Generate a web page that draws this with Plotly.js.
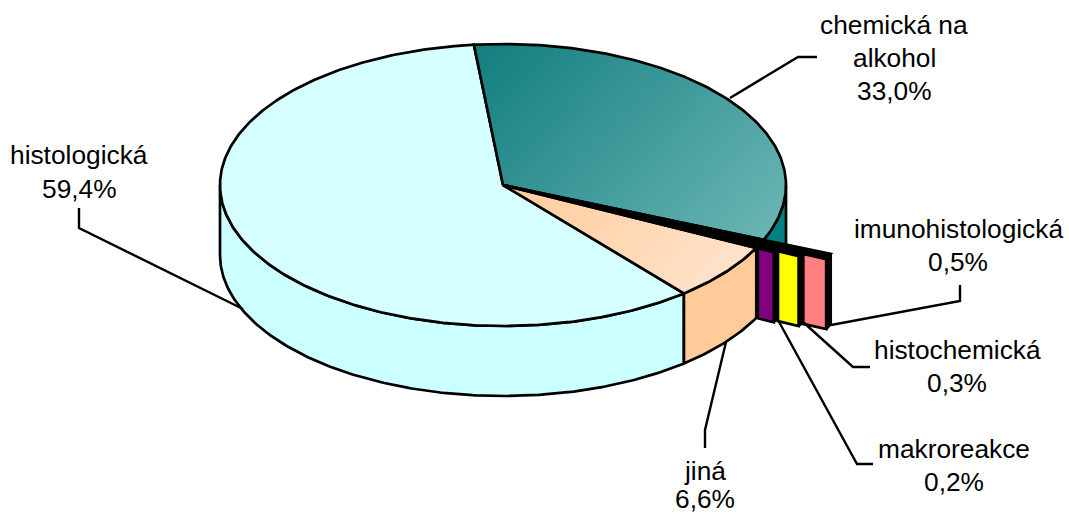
<!DOCTYPE html>
<html>
<head>
<meta charset="utf-8">
<script src="https://cdn.plot.ly/plotly-3.0.1.min.js"></script>
<style>html,body{margin:0;padding:0;background:#fff}#chart{width:1069px;height:516px}</style>
</head>
<body>
<div id="chart"></div>
<script>
// Shares of staining methods, clockwise from the start angle.
const categories = ['chemická na alkohol', 'imunohistologická', 'histochemická', 'makroreakce', 'jiná', 'histologická'];
const shares = [33.0, 0.5, 0.3, 0.2, 6.6, 59.4];

const topColours = {
  'chemická na alkohol': ['#137e7e', '#69b4b4'],
  'jiná': ['#ffcc99', '#ffe2cc'],
  'histologická': ['#d6ffff', '#d6ffff']
};
const wallColours = {
  'chemická na alkohol': '#008080',
  'imunohistologická': '#ff8080',
  'histochemická': '#ffff00',
  'makroreakce': '#800080',
  'jiná': '#ffcc99',
  'histologická': '#ccffff'
};

// Radial reach of the three pulled-out slices, relative to the pie radius.
const pulledOut = {
  'imunohistologická': [1.168, 1.257],
  'histochemická': [1.079, 1.16],
  'makroreakce': [1.006, 1.069]
};

// Label lines and leader lines, in screen units.
const labelLines = [
  ['chemická na', 894, 25], ['alkohol', 894, 58], ['33,0%', 894, 91],
  ['imunohistologická', 958, 229], ['0,5%', 958, 262],
  ['histochemická', 957, 350], ['0,3%', 957, 383],
  ['makroreakce', 954, 449], ['0,2%', 954, 482],
  ['jiná', 705, 471], ['6,6%', 705, 499],
  ['histologická', 79, 155], ['59,4%', 79, 189]
];
const leaders = [
  [[817, 798, 730], [57, 57, 98]],
  [[960, 960, 831], [285, 301, 325]],
  [[870, 853, 803], [367, 367, 322]],
  [[873, 857, 778], [464, 464, 320]],
  [[705, 705, 726], [448, 430, 342]],
  [[79, 79, 243], [208, 228, 309]]
];

// Projection of the tilted disc.
const CX = 503, CY = 185, RX = 283, RY = 141, DEPTH = 70, START = -5.9, STROKE = 2.7;

function pt(deg, r, drop) {
  const a = deg * Math.PI / 180;
  return [CX + RX * r * Math.sin(a), CY - RY * r * Math.cos(a) + (drop || 0)];
}
function arc(a0, a1, r, drop) {
  const n = Math.max(2, Math.ceil(Math.abs(a1 - a0) * 1.5)), out = [];
  for (let i = 0; i <= n; i++) out.push(pt(a0 + (a1 - a0) * i / n, r, drop));
  return out;
}
function close(poly) { return poly.concat([poly[0]]); }
function hex(c) { return [1, 3, 5].map(i => parseInt(c.substr(i, 2), 16)); }
function mix(c0, c1, t) {
  const a = hex(c0), b = hex(c1);
  return 'rgb(' + a.map((v, i) => Math.round(v + (b[i] - v) * t)).join(',') + ')';
}

const traces = [];
function polygon(poly, fill, line) {
  const p = close(poly);
  traces.push({
    x: p.map(q => q[0]), y: p.map(q => q[1]), type: 'scatter', mode: 'lines',
    fill: fill ? 'toself' : 'none', fillcolor: fill || undefined,
    line: { color: '#000', width: line ? STROKE : 0 },
    hoverinfo: 'skip', showlegend: false, cliponaxis: false
  });
}
// Keep the part of a polygon lying past offset t along direction (dx, dy).
function clipAlong(poly, dx, dy, t) {
  const out = [], f = p => p[0] * dx + p[1] * dy - t;
  poly.forEach((p, i) => {
    const q = poly[(i + 1) % poly.length], fp = f(p), fq = f(q);
    if (fp >= 0) out.push(p);
    if ((fp >= 0) !== (fq >= 0)) {
      const k = fp / (fp - fq);
      out.push([p[0] + (q[0] - p[0]) * k, p[1] + (q[1] - p[1]) * k]);
    }
  });
  return out;
}
// Diagonal shading: overlapping layers, each covering the rest of the shape.
function shaded(poly, colours, steps) {
  const dx = 0.72, dy = 0.69, ts = poly.map(p => p[0] * dx + p[1] * dy);
  const lo = Math.min(...ts), hi = Math.max(...ts);
  if (colours[0] === colours[1]) { polygon(poly, colours[0], false); }
  else for (let i = 0; i < steps; i++) {
    const part = clipAlong(poly, dx, dy, lo + (hi - lo) * i / steps);
    if (part.length > 2) polygon(part, mix(colours[0], colours[1], i / (steps - 1)), false);
  }
  polygon(poly, null, true);
}

// Slice angle ranges come straight from the shares.
const ranges = {};
let cum = START;
categories.forEach((c, i) => { ranges[c] = [cum, cum + shares[i] * 3.6]; cum += shares[i] * 3.6; });

function sideWall(a0, a1, colour) {
  polygon(arc(a0, a1, 1, 0).concat(arc(a1, a0, 1, DEPTH)), colour, true);
}

// Back to front: side walls of the disc, its top faces, then the pulled-out slices.
const chem = categories[0], jina = categories[4], hist = categories[5];
sideWall(90, ranges[chem][1], wallColours[chem]);
sideWall(ranges[hist][0], 270, wallColours[hist]);
sideWall(ranges[jina][0], ranges[jina][1], wallColours[jina]);

[hist, chem, jina].forEach(c => {
  const [a0, a1] = ranges[c];
  shaded([[CX, CY]].concat(arc(a0, a1, 1, 0)), topColours[c], 60);
});

const pulled = categories.slice(1, 4);
const firstBand = pulledOut[pulled[2]], lastBand = pulledOut[pulled[0]];
const backA = pt(ranges[pulled[2]][1], firstBand[0]), backB = pt(ranges[pulled[0]][1], lastBand[1]);
polygon([backA, backB, [backB[0], backB[1] + DEPTH], [backA[0], backA[1] + DEPTH]], '#000', false);

pulled.forEach(c => {
  const [a0, a1] = ranges[c], [rIn, rOut] = pulledOut[c];
  polygon(arc(a0, a1, rOut, 0).concat(arc(a1, a0, rOut, DEPTH)), '#000', true);
  // Seen almost edge-on, so the thin top faces read as a solid dark band.
  polygon([[CX, CY]].concat(arc(a0, a1, rOut, 0)), '#000', true);
  const w0 = pt(a1, rIn), w1 = pt(a1, rOut);
  polygon([w0, w1, [w1[0], w1[1] + DEPTH], [w0[0], w0[1] + DEPTH]], wallColours[c], true);
});

leaders.forEach(l => traces.push({
  x: l[0], y: l[1], type: 'scatter', mode: 'lines',
  line: { color: '#000', width: 2.4 }, hoverinfo: 'skip', showlegend: false, cliponaxis: false
}));

const layout = {
  width: 1069, height: 516,
  margin: { l: 0, r: 0, t: 0, b: 0 },
  paper_bgcolor: '#fff', plot_bgcolor: '#fff',
  showlegend: false,
  xaxis: { range: [0, 1069], visible: false, fixedrange: true },
  yaxis: { range: [516, 0], visible: false, fixedrange: true },
  annotations: labelLines.map(l => ({
    text: l[0], x: l[1], y: l[2], xref: 'x', yref: 'y', showarrow: false,
    xanchor: 'center', yanchor: 'middle', borderpad: 0,
    font: { family: 'Liberation Sans, Arial, sans-serif', size: 26.3, color: '#000' }
  }))
};

Plotly.newPlot('chart', traces, layout, { staticPlot: true, displayModeBar: false });
</script>
</body>
</html>
